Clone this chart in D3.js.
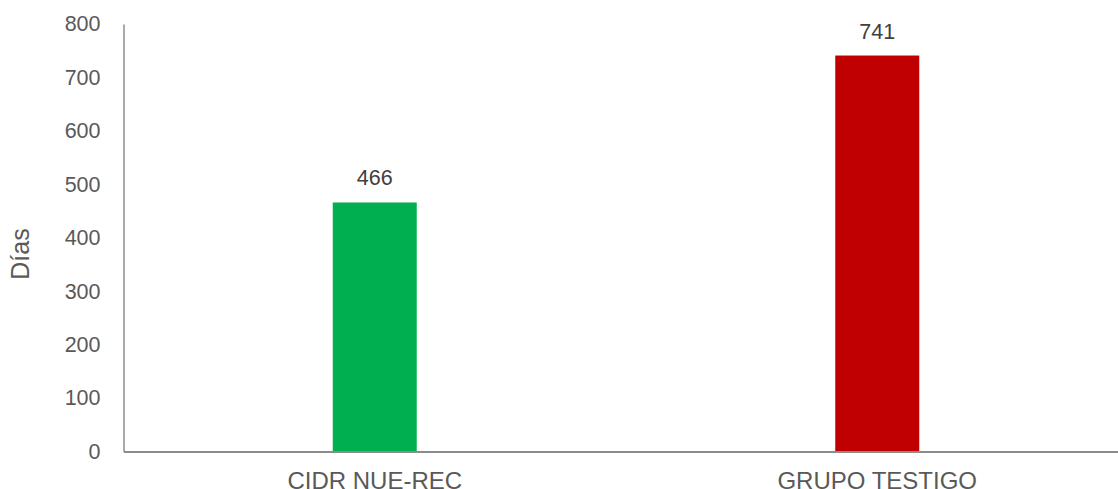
<!DOCTYPE html>
<html>
<head>
<meta charset="utf-8">
<script src="https://cdn.jsdelivr.net/npm/d3@7"></script>
<style>
  html, body { margin: 0; padding: 0; background: #fff; }
  svg { display: block; }
</style>
</head>
<body>
<svg id="chart" width="1118" height="489"></svg>
<script>
const categories = ["CIDR NUE-REC", "GRUPO TESTIGO"];
const values = [466, 741];
const barColors = ["#00B050", "#C00000"];
const yTicks = [0, 100, 200, 300, 400, 500, 600, 700, 800];
const yTitle = "Días";

const svg = d3.select("#chart");
const mLeft = 123.5, mRight = 1128.5, mTop = 24, mBottom = 451.5;

const x = d3.scaleBand().domain(categories).range([mLeft, mRight]).padding(0);
const y = d3.scaleLinear().domain([0, 800]).range([mBottom, mTop]);
const barW = 84;
const axisColor = "#8C8C8C";
const font = "'Liberation Sans', Arial, sans-serif";

// bars
svg.selectAll("rect.bar").data(values).enter().append("rect")
  .attr("class", "bar")
  .attr("x", (d, i) => x(categories[i]) + x.bandwidth() / 2 - barW / 2)
  .attr("width", barW)
  .attr("y", d => y(d))
  .attr("height", d => y(0) - y(d))
  .attr("fill", (d, i) => barColors[i]);

// value labels
svg.selectAll("text.val").data(values).enter().append("text")
  .attr("class", "val")
  .attr("x", (d, i) => x(categories[i]) + x.bandwidth() / 2)
  .attr("y", d => y(d) - 17)
  .attr("text-anchor", "middle")
  .attr("font-family", font)
  .attr("font-size", "21.5px")
  .attr("fill", "#404040")
  .text(d => d);

// y axis
const yAxis = d3.axisLeft(y).tickValues(yTicks).tickSize(0).tickPadding(23);
const gy = svg.append("g").attr("transform", `translate(${mLeft},0)`).call(yAxis);
gy.select(".domain").attr("stroke", axisColor).attr("stroke-width", 1.5);
gy.selectAll("text").attr("font-family", font).attr("font-size", "21.5px").attr("fill", "#595959");

// x axis
const xAxis = d3.axisBottom(x).tickSize(0).tickPadding(20);
const gx = svg.append("g").attr("transform", `translate(0,${mBottom})`).call(xAxis);
gx.select(".domain").attr("stroke", axisColor).attr("stroke-width", 2);
gx.selectAll("text").attr("font-family", font).attr("font-size", "24px").attr("fill", "#595959");

// y title
svg.append("text")
  .attr("transform", `translate(29,254) rotate(-90)`)
  .attr("text-anchor", "middle")
  .attr("font-family", font)
  .attr("font-size", "25px")
  .attr("fill", "#595959")
  .text(yTitle);
</script>
</body>
</html>
